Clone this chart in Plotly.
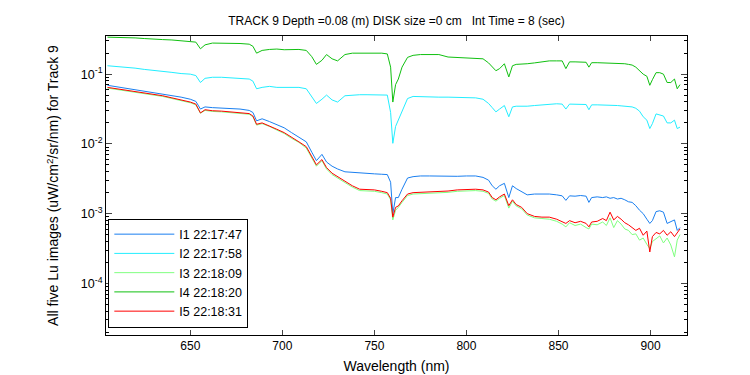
import plotly.graph_objects as go

wavelength = [605, 610, 615, 620, 625, 630, 635, 640, 645, 650, 653, 655.5, 658, 662, 667, 672, 677, 682, 684, 686,
              689, 693, 697, 701, 705, 709, 713, 716, 718.5, 721.5, 724, 727, 730, 734, 738, 742, 746, 750, 754, 757,
              758.8, 760, 761.5, 763, 765, 768, 771, 775, 780, 785, 790, 795, 800, 805, 809, 812, 814, 816, 818, 820.6,
              823, 825, 827, 830, 833, 837, 841, 845, 849, 852, 854, 856, 859, 862, 865, 866.5, 868, 871, 874, 876,
              878, 880, 882, 884, 886, 888, 890, 892, 894, 896, 898, 899.6, 901, 903, 905, 907, 909, 911, 913, 914.5, 916]

i1 = [0.0692, 0.0661, 0.0631, 0.0603, 0.0575, 0.0550, 0.0525, 0.0490, 0.0468, 0.0437, 0.0407, 0.0316, 0.0339, 0.0331,
      0.0327, 0.0324, 0.0316, 0.0302, 0.0282, 0.0214, 0.0229, 0.0209, 0.0191, 0.0170, 0.0145, 0.0126, 0.0107, 0.00759,
      0.00575, 0.00708, 0.00550, 0.00479, 0.00437, 0.00398, 0.00389, 0.00380, 0.00372, 0.00372, 0.00367, 0.00363,
      0.00282, 0.00100, 0.00170, 0.00170, 0.00224, 0.00324, 0.00339, 0.00347, 0.00347, 0.00343, 0.00339, 0.00343,
      0.00347, 0.00347, 0.00331, 0.00302, 0.00251, 0.00224, 0.00251, 0.00272, 0.00170, 0.00251, 0.00229, 0.00209,
      0.00186, 0.00191, 0.00193, 0.00191, 0.00186, 0.00180, 0.00155, 0.00180, 0.00178, 0.00182, 0.00178, 0.00145,
      0.00170, 0.00174, 0.00170, 0.00174, 0.00166, 0.00170, 0.00162, 0.00166, 0.00158, 0.00148, 0.00145, 0.00130,
      0.00112, 0.00100, 0.000832, 0.000724, 0.000794, 0.00107, 0.00110, 0.00105, 0.000724, 0.000759, 0.000813,
      0.000575, 0.000631]

i2 = [0.132, 0.129, 0.126, 0.122, 0.117, 0.114, 0.110, 0.106, 0.102, 0.100, 0.0955, 0.0759, 0.0871, 0.0902, 0.0902,
      0.0891, 0.0881, 0.0851, 0.0794, 0.0617, 0.0646, 0.0668, 0.0646, 0.0646, 0.0646, 0.0646, 0.0617, 0.0479, 0.0380,
      0.0437, 0.0501, 0.0427, 0.0398, 0.0490, 0.0501, 0.0507, 0.0507, 0.0507, 0.0501, 0.0501, 0.0282, 0.0102, 0.0178,
      0.0219, 0.0302, 0.0447, 0.0479, 0.0473, 0.0468, 0.0468, 0.0468, 0.0468, 0.0462, 0.0457, 0.0437, 0.0380, 0.0331,
      0.0288, 0.0316, 0.0355, 0.0245, 0.0339, 0.0347, 0.0343, 0.0347, 0.0355, 0.0363, 0.0372, 0.0376, 0.0372, 0.0316,
      0.0372, 0.0372, 0.0372, 0.0367, 0.0309, 0.0363, 0.0363, 0.0363, 0.0363, 0.0359, 0.0355, 0.0355, 0.0351, 0.0347,
      0.0343, 0.0339, 0.0324, 0.0295, 0.0245, 0.0219, 0.0166, 0.0195, 0.0269, 0.0263, 0.0251, 0.0200, 0.0200, 0.0219,
      0.0166, 0.0174]

i3 = [0.0631, 0.0603, 0.0575, 0.0550, 0.0531, 0.0507, 0.0479, 0.0447, 0.0417, 0.0389, 0.0363, 0.0275, 0.0302, 0.0292,
      0.0288, 0.0282, 0.0275, 0.0266, 0.0245, 0.0186, 0.0195, 0.0178, 0.0158, 0.0141, 0.0120, 0.0105, 0.00871, 0.00617,
      0.00479, 0.00575, 0.00437, 0.00363, 0.00324, 0.00275, 0.00240, 0.00214, 0.00211, 0.00209, 0.00200, 0.00191,
      0.00158, 0.000813, 0.00112, 0.00123, 0.00145, 0.00182, 0.00191, 0.00193, 0.00195, 0.00200, 0.00202, 0.00209,
      0.00211, 0.00214, 0.00209, 0.00195, 0.00162, 0.00151, 0.00166, 0.00182, 0.00120, 0.00151, 0.00129, 0.00117,
      0.000955, 0.000871, 0.000851, 0.000832, 0.000776, 0.000708, 0.000646, 0.000741, 0.000676, 0.000708, 0.000631,
      0.000603, 0.000708, 0.000692, 0.000759, 0.000676, 0.000871, 0.000631, 0.000794, 0.000708, 0.000603, 0.000575,
      0.000501, 0.000513, 0.000417, 0.000447, 0.000363, 0.000316, 0.000398, 0.000437, 0.000479, 0.000380, 0.000447,
      0.000355, 0.000240, 0.000417, 0.000501]

i4 = [0.339, 0.339, 0.335, 0.331, 0.324, 0.316, 0.313, 0.309, 0.302, 0.295, 0.288, 0.231, 0.263, 0.279, 0.279, 0.275,
      0.275, 0.269, 0.251, 0.200, 0.219, 0.226, 0.229, 0.224, 0.226, 0.226, 0.219, 0.178, 0.138, 0.158, 0.191, 0.166,
      0.155, 0.191, 0.200, 0.200, 0.200, 0.200, 0.200, 0.195, 0.126, 0.0398, 0.0708, 0.0851, 0.126, 0.174, 0.186, 0.191,
      0.192, 0.191, 0.176, 0.174, 0.170, 0.170, 0.166, 0.145, 0.126, 0.112, 0.120, 0.141, 0.0912, 0.132, 0.138, 0.138,
      0.141, 0.145, 0.151, 0.155, 0.155, 0.155, 0.120, 0.150, 0.150, 0.150, 0.148, 0.126, 0.146, 0.146, 0.145, 0.145,
      0.145, 0.143, 0.143, 0.141, 0.141, 0.138, 0.135, 0.126, 0.112, 0.100, 0.0933, 0.0692, 0.0832, 0.105, 0.105, 0.100,
      0.0759, 0.0759, 0.0851, 0.0617, 0.0708]

i5 = [0.0646, 0.0617, 0.0589, 0.0562, 0.0543, 0.0519, 0.0490, 0.0457, 0.0427, 0.0398, 0.0372, 0.0278, 0.0309, 0.0299,
      0.0295, 0.0288, 0.0282, 0.0272, 0.0251, 0.0191, 0.0200, 0.0182, 0.0162, 0.0145, 0.0123, 0.0107, 0.00912, 0.00646,
      0.00501, 0.00596, 0.00457, 0.00380, 0.00339, 0.00288, 0.00251, 0.00224, 0.00221, 0.00219, 0.00209, 0.00200,
      0.00166, 0.000891, 0.00123, 0.00129, 0.00153, 0.00191, 0.00200, 0.00202, 0.00204, 0.00209, 0.00211, 0.00219,
      0.00221, 0.00224, 0.00219, 0.00204, 0.00170, 0.00158, 0.00174, 0.00191, 0.00130, 0.00158, 0.00135, 0.00123,
      0.00100, 0.000912, 0.000891, 0.000891, 0.000832, 0.000776, 0.000724, 0.000794, 0.000741, 0.000776, 0.000724,
      0.000646, 0.000759, 0.000776, 0.000851, 0.000794, 0.00105, 0.000813, 0.000912, 0.000832, 0.000741, 0.000692,
      0.000631, 0.000575, 0.000617, 0.000490, 0.000562, 0.000282, 0.000468, 0.000537, 0.000513, 0.000575, 0.000490,
      0.000550, 0.000468, 0.000525, 0.000603]

series_names = ["I1 22:17:47", "I2 22:17:58", "I3 22:18:09", "I4 22:18:20", "I5 22:18:31"]
series_values = [i1, i2, i3, i4, i5]
series_colors = ["#1a7ff0", "#22eeff", "#80ff80", "#10c010", "#ff0000"]

x_ticks = [650, 700, 750, 800, 850, 900]
y_ticks = [1e-4, 1e-3, 1e-2, 1e-1]
y_ticktext = ["10<sup>-4</sup>", "10<sup>-3</sup>", "10<sup>-2</sup>", "10<sup>-1</sup>"]

FONT = "Liberation Sans, Arial, sans-serif"

fig = go.Figure()
for name, vals, col in zip(series_names, series_values, series_colors):
    fig.add_trace(go.Scatter(x=wavelength, y=vals, mode="lines", name=name,
                             line=dict(color=col, width=1)))

minor_vals = [m * 10.0 ** e for e in range(-5, 0) for m in range(2, 10)]

fig.update_layout(
    width=750, height=375,
    paper_bgcolor="white", plot_bgcolor="white",
    margin=dict(l=98, r=71, t=28, b=44),
    font=dict(family=FONT, size=12, color="black"),
    title=dict(text="TRACK 9 Depth =0.08 (m) DISK size =0 cm   Int Time = 8 (sec)",
               x=0.518, xanchor="center", y=1 - 13 / 375, yanchor="middle",
               font=dict(family=FONT, size=12, color="black")),
    showlegend=True,
    legend=dict(x=0.004, y=0.025, xanchor="left", yanchor="bottom",
                bgcolor="white", bordercolor="black", borderwidth=1,
                font=dict(family=FONT, size=12.5, color="black"),
                itemwidth=60, tracegroupgap=0),
    xaxis=dict(range=[604.2, 919.8], tickvals=x_ticks, ticks="inside", ticklen=5,
               showline=True, linecolor="black", linewidth=1, mirror="ticks",
               showgrid=False, zeroline=False,
               title=dict(text="Wavelength (nm)", standoff=8),
               tickfont=dict(size=12)),
    yaxis=dict(type="log", range=[-4.74, -0.453], tickvals=y_ticks, ticktext=y_ticktext,
               ticks="inside", ticklen=6,
               minor=dict(ticks="inside", ticklen=3, tickvals=minor_vals, tickcolor="black", showgrid=False),
               showline=True, linecolor="black", linewidth=1, mirror="ticks",
               showgrid=False, zeroline=False,
               title=dict(text="All five Lu images (uW/cm<sup>2</sup>/sr/nm) for Track 9", standoff=18,
                          font=dict(size=14)),
               tickfont=dict(size=12.5)),
)

fig.write_html("out.html")
